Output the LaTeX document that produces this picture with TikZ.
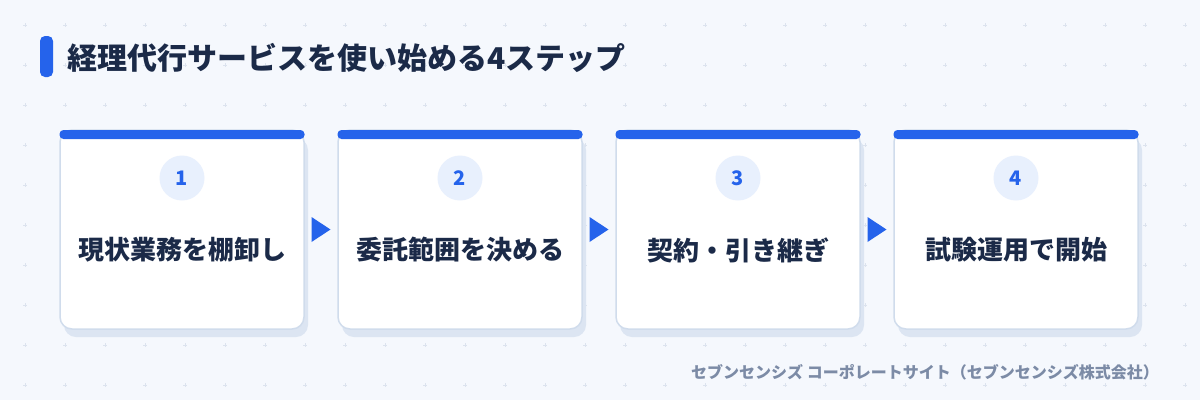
\documentclass[tikz,border=0pt]{standalone}
\usepackage{fontspec}
\setmainfont{Noto Sans CJK JP}
\usetikzlibrary{shadows,calc}
\definecolor{bgc}{HTML}{F5F8FD}
\definecolor{gridc}{HTML}{DCE3EE}
\definecolor{bluec}{HTML}{2563EB}
\definecolor{navyc}{HTML}{1B2A48}
\definecolor{borderc}{HTML}{D0DCEC}
\definecolor{shadowc}{HTML}{DCE5F2}
\definecolor{circc}{HTML}{E8F0FD}
\definecolor{footc}{HTML}{7C8BA6}
\tikzset{
  card/.style={draw=borderc, line width=1.5pt, fill=white, rounded corners=12pt,
    minimum width=244pt, minimum height=199pt, inner sep=0pt,
    drop shadow={shadow xshift=4pt, shadow yshift=-8pt, fill=shadowc, opacity=1}},
  topbar/.style={fill=bluec, rounded corners=4pt, minimum width=245pt, minimum height=9pt, inner sep=0pt},
  numcirc/.style={circle, fill=circc, minimum size=45pt, inner sep=0pt, text=bluec,
    font=\fontsize{20pt}{22pt}\selectfont\bfseries},
  steptext/.style={text=navyc, font=\fontsize{26pt}{30pt}\selectfont\bfseries, inner sep=0pt},
  arrowtri/.style={fill=bluec},
  plusmark/.style={draw=gridc, line width=0.8pt}
}
\begin{document}
\begin{tikzpicture}[x=1pt,y=-1pt]
\fill[bgc] (0,0) rectangle (1200,400);
\useasboundingbox (0,0) rectangle (1200,400);
% grid of plus marks
\foreach \gx in {25,65,...,1185}{
  \foreach \gy in {25,65,...,385}{
    \draw[plusmark] (\gx-2,\gy) -- (\gx+2,\gy) (\gx,\gy-2) -- (\gx,\gy+2);
  }
}
% title
\fill[bluec, rounded corners=5pt] (40,36) rectangle (53,77);
\node[anchor=west, text=navyc, font=\fontsize{30pt}{34pt}\selectfont\bfseries, inner sep=0pt] (title) at (67,57.5) {経理代行サービスを使い始める4ステップ};
% cards
\foreach \i/\cx/\num/\txt in {1/182/1/現状業務を棚卸し, 2/460/2/委託範囲を決める, 3/738/3/契約・引き継ぎ, 4/1016/4/試験運用で開始}{
  \node[card] (card\i) at (\cx,229.5) {};
  \node[topbar] (bar\i) at (\cx,134.5) {};
  \node[numcirc] (num\i) at (\cx,178) {\num};
  \node[steptext] (txt\i) at (\cx,250) {\txt};
}
% arrows
\foreach \a/\b in {1/2,2/3,3/4}{
  \coordinate (m\a) at ($(card\a.east)!0.5!(card\b.west)$);
  \fill[arrowtri] ($(m\a)+(-9.5,-12.5)$) -- ($(m\a)+(9.5,0)$) -- ($(m\a)+(-9.5,12.5)$) -- cycle;
}
% footer
\node[anchor=east, text=footc, font=\fontsize{16pt}{19pt}\selectfont\bfseries, inner sep=0pt] (footer) at (1159,372) {セブンセンシズ コーポレートサイト（セブンセンシズ株式会社）};
\end{tikzpicture}
\end{document}
